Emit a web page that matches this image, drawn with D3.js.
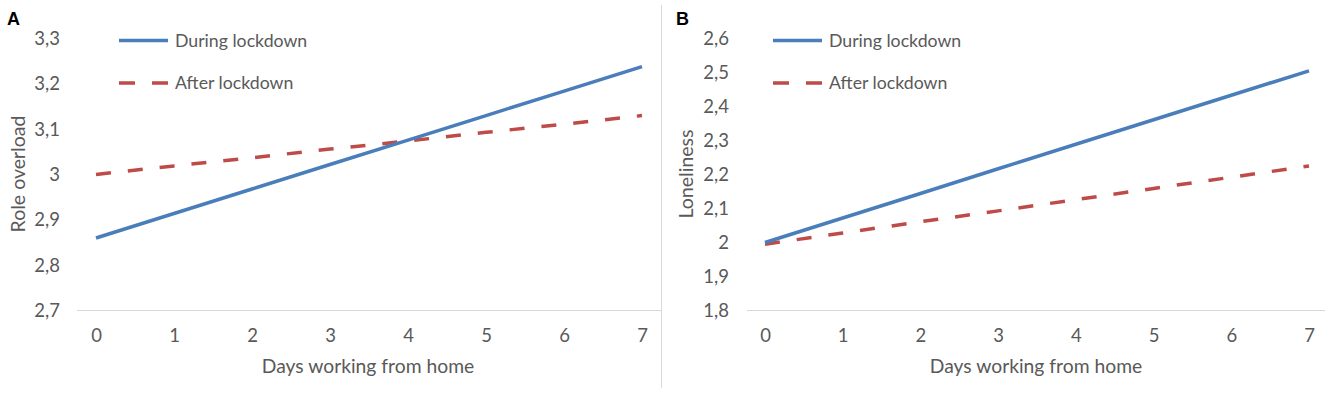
<!DOCTYPE html>
<html>
<head>
<meta charset="utf-8">
<script src="https://cdn.jsdelivr.net/npm/d3@7"></script>
<style>
body{margin:0;background:#fff;}
svg{display:block;}
text{font-family:Lato,"Open Sans",sans-serif;fill:#595959;}
</style>
</head>
<body>
<div id="chart"></div>
<script>
(function(){

const days = [0,1,2,3,4,5,6,7];

// A: role overload
const overloadDuring = [2.86,2.914,2.968,3.022,3.076,3.13,3.184,3.238];
const overloadAfter  = [3.0,3.019,3.037,3.056,3.074,3.093,3.111,3.13];
const overloadTicks  = [2.7,2.8,2.9,3.0,3.1,3.2,3.3];

// B: loneliness
const lonelyDuring = [2.0,2.072,2.144,2.217,2.289,2.361,2.433,2.505];
const lonelyAfter  = [1.995,2.028,2.061,2.093,2.126,2.159,2.192,2.225];
const lonelyTicks  = [1.8,1.9,2.0,2.1,2.2,2.3,2.4,2.5,2.6];

const seriesNames = ["During lockdown","After lockdown"];

const width = 1325;
const height = 393;

const blue = "#4a7ebb";
const red = "#be4b48";

const fmt = d3.formatLocale({decimal:",",thousands:".",grouping:[3],currency:["",""]}).format(".1~f");

const svg = d3.select("#chart")
.append("svg")
.attr("width",width)
.attr("height",height);

// separator between panels
svg.append("line")
.attr("x1",661.5).attr("x2",661.5)
.attr("y1",5).attr("y2",388)
.attr("stroke","#d9d9d9");

function panel(cfg){
const g = svg.append("g");

const x = d3.scaleLinear().domain([0,7]).range([cfg.x0,cfg.x1]);
const y = d3.scaleLinear().domain(d3.extent(cfg.ticks)).range([310.5,38.5]);

// x axis line
g.append("line")
.attr("x1",cfg.axL).attr("x2",cfg.axR)
.attr("y1",310.5).attr("y2",310.5)
.attr("stroke","#d9d9d9");

// y ticks
const ya = g.append("g")
.attr("transform",`translate(${cfg.yLab},0)`)
.call(d3.axisLeft(y).tickValues(cfg.ticks).tickSize(0).tickPadding(0).tickFormat(fmt));
ya.select(".domain").remove();
ya.selectAll("text").style("font-size","18.5px").style("font-family","Lato").attr("fill","#595959");

// x ticks
const xa = g.append("g")
.attr("transform","translate(0,336)")
.call(d3.axisBottom(x).tickValues(days).tickSize(0).tickPadding(0).tickFormat(d3.format("d")));
xa.select(".domain").remove();
xa.selectAll("text").style("font-size","18.5px").style("font-family","Lato").attr("fill","#595959").attr("dy","0.3em");

// axis titles
g.append("text")
.attr("x",(cfg.x0+cfg.x1)/2 - 1)
.attr("y",373)
.attr("text-anchor","middle")
.style("font-size","19.3px")
.text("Days working from home");

g.append("text")
.attr("transform",`translate(${cfg.yTitle},174) rotate(-90)`)
.attr("text-anchor","middle")
.attr("dy","0.35em")
.style("font-size","19.5px")
.text(cfg.yName);

// panel letter
g.append("text")
.attr("x",cfg.letterX)
.attr("y",25)
.style("font-family","'Liberation Sans',Arial,sans-serif")
.style("font-weight","bold")
.style("font-size","18px")
.style("fill","#000")
.text(cfg.letter);

const line = d3.line()
.x((d,i)=>x(days[i]))
.y(d=>y(d));

g.append("path")
.attr("d",line(cfg.after))
.attr("fill","none")
.attr("stroke",red)
.attr("stroke-width",3.5)
.attr("stroke-dasharray","15,17");

g.append("path")
.attr("d",line(cfg.during))
.attr("fill","none")
.attr("stroke",blue)
.attr("stroke-width",3.5);

// legend
const lg = g.append("g").attr("transform",`translate(${cfg.legX},0)`);
const legY = [40.5,83];
lg.selectAll("line")
.data(seriesNames)
.enter()
.append("line")
.attr("x1",0).attr("x2",49)
.attr("y1",(d,i)=>legY[i]).attr("y2",(d,i)=>legY[i])
.attr("stroke",(d,i)=>i===0?blue:red)
.attr("stroke-width",3.5)
.attr("stroke-dasharray",(d,i)=>i===0?null:"16,17");

lg.selectAll("text")
.data(seriesNames)
.enter()
.append("text")
.attr("x",56)
.attr("y",(d,i)=>legY[i])
.attr("dy","0.35em")
.style("font-size","17.7px")
.text(d=>d);
}

panel({letter:"A",letterX:7,x0:96,x1:642,axL:77,axR:661,yLab:60,yTitle:18,
yName:"Role overload",ticks:overloadTicks,during:overloadDuring,after:overloadAfter,legX:119});

panel({letter:"B",letterX:676,x0:765,x1:1309,axL:747,axR:1325,yLab:729,yTitle:686,
yName:"Loneliness",ticks:lonelyTicks,during:lonelyDuring,after:lonelyAfter,legX:773});

})();
</script>
</body>
</html>
